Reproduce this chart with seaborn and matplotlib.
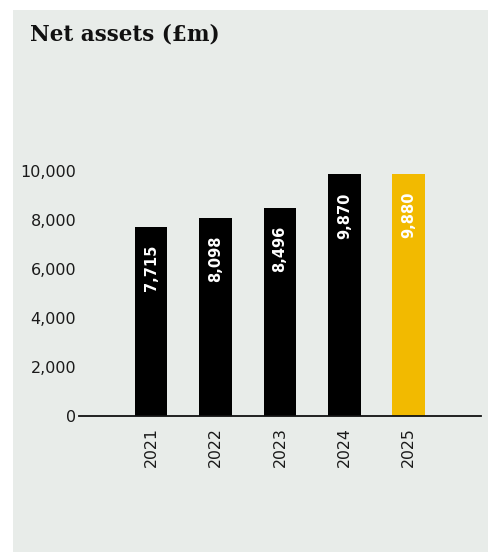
import matplotlib
matplotlib.use("Agg")
import matplotlib.pyplot as plt
import matplotlib.patches as mpatches
from matplotlib.ticker import FuncFormatter
import seaborn as sns
import pandas as pd

# Net assets by financial year (£m)
years = ["2021", "2022", "2023", "2024", "2025"]
net_assets = [7715, 8098, 8496, 9870, 9880]
bar_colors = ["#000000", "#000000", "#000000", "#000000", "#F2BA00"]
y_ticks = [0, 2000, 4000, 6000, 8000, 10000]
title = "Net assets (£m)"

panel_color = "#E8ECE9"

sns.set_theme(style="white")
plt.rcParams["font.family"] = ["DejaVu Sans"]

W, H, DPI = 488, 552, 100
fig = plt.figure(figsize=(W / DPI, H / DPI), dpi=DPI, facecolor="white")

# light panel behind the chart
fig.patches.append(mpatches.Rectangle((13 / W, 0), 1 - 13 / W, (H - 10) / H,
                                      transform=fig.transFigure, facecolor=panel_color,
                                      edgecolor="none", zorder=-10))

ax_left, ax_right = 79 / W, 481 / W
ax_bottom, ax_top = (H - 416) / H, (H - 140) / H
ax = fig.add_axes([ax_left, ax_bottom, ax_right - ax_left, ax_top - ax_bottom])
ax.set_facecolor("none")

df = pd.DataFrame({"year": years, "value": net_assets})
sns.barplot(data=df, x="year", y="value", hue="year", palette=bar_colors,
            width=0.51, legend=False, ax=ax, saturation=1, linewidth=0)

ax.set_xlim(-1.118, 5.12)
ax.set_ylim(0, 10000 * (416 - 140) / 245)
ax.set_yticks(y_ticks)
ax.yaxis.set_major_formatter(FuncFormatter(lambda v, p: f"{int(v):,}"))
ax.set_xlabel("")
ax.set_ylabel("")

for side in ["left", "right", "top"]:
    ax.spines[side].set_visible(False)
ax.spines["bottom"].set_color("#111111")
ax.spines["bottom"].set_linewidth(1.3)
ax.spines["bottom"].set_zorder(3)

ax.tick_params(axis="y", length=0, pad=2, labelsize=11.5, labelcolor="#1a1a1a")
ax.tick_params(axis="x", length=0, pad=8, labelsize=11.3, labelcolor="#1a1a1a",
               labelrotation=90)

# value labels inside the bars
for i, v in enumerate(net_assets):
    ax.annotate(f"{v:,}", xy=(i, v), xytext=(0, -18), textcoords="offset pixels",
                rotation=90, ha="center", va="top", color="white",
                fontsize=10.5, fontweight="bold")

fig.text(30 / W, 1 - 40 / H, title, ha="left", va="baseline",
         fontsize=15.5, fontweight="semibold", color="#111111",
         family=["DejaVu Serif"])

fig.savefig("out.png", dpi=DPI, facecolor="white")
